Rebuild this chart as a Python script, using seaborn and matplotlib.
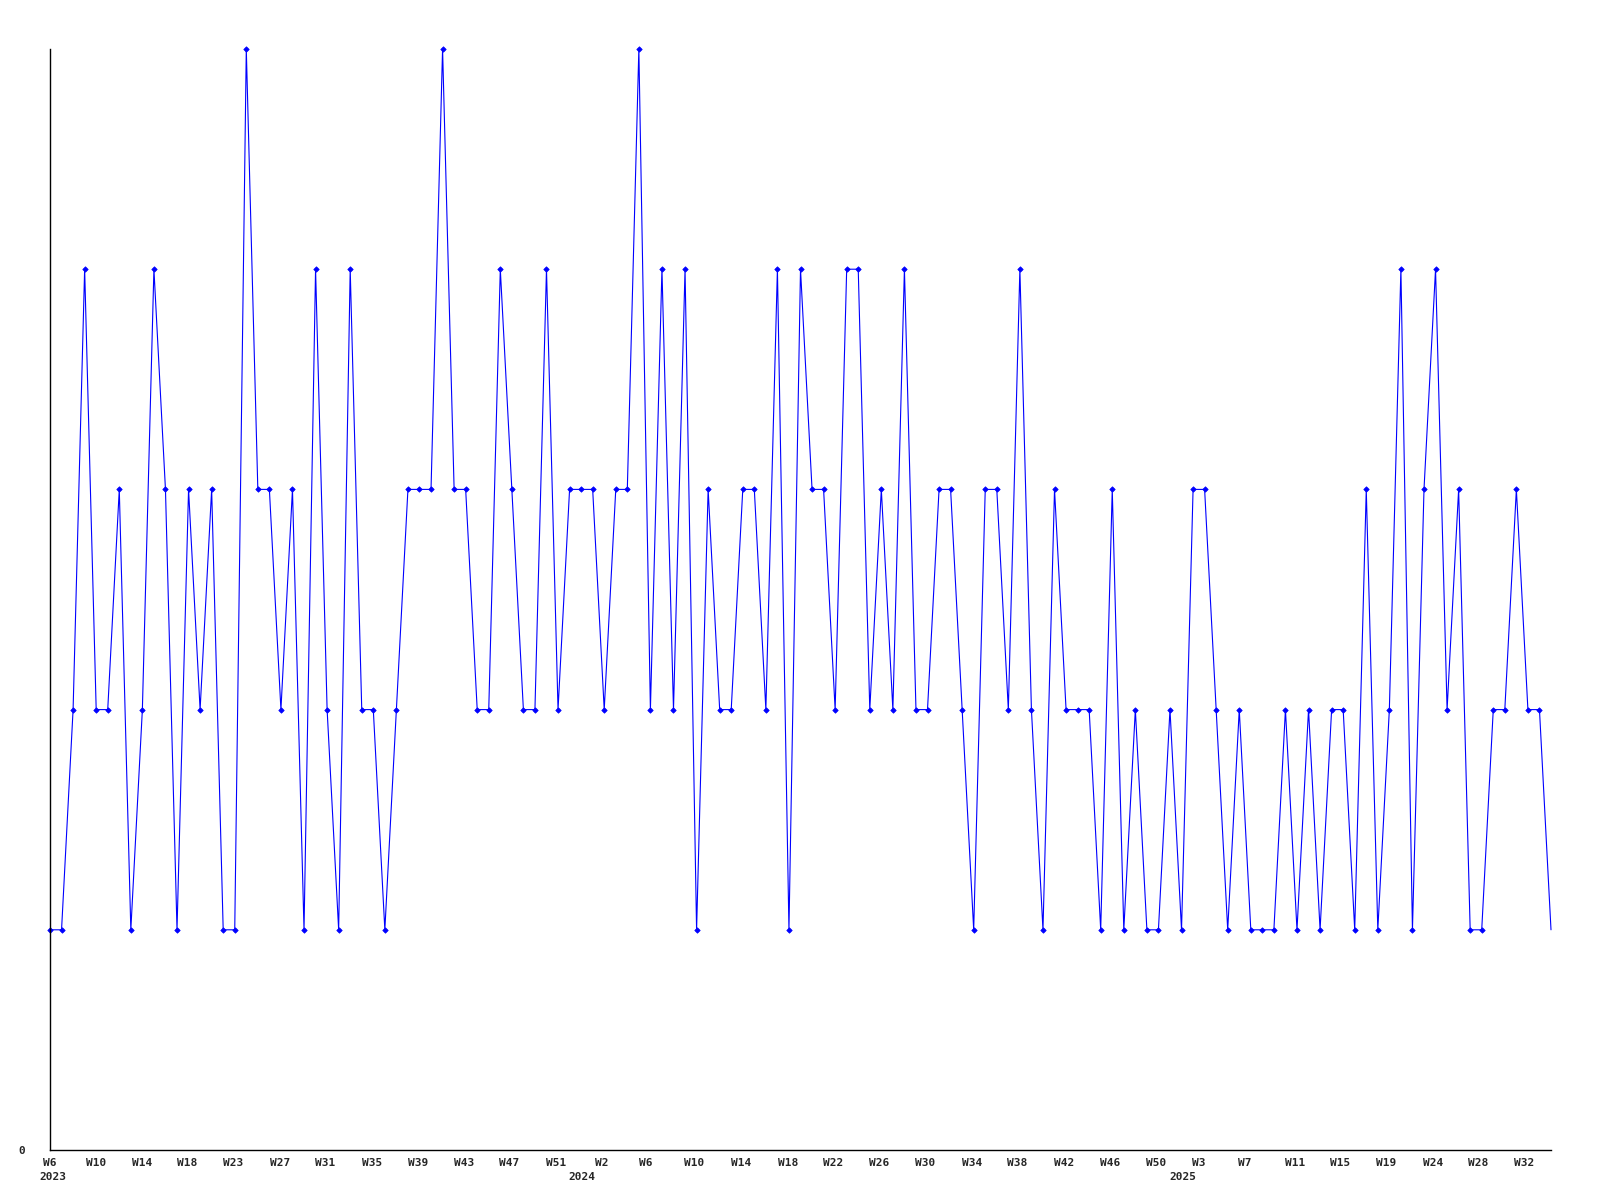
import matplotlib
matplotlib.use("Agg")
import matplotlib.pyplot as plt
import matplotlib.transforms as mtransforms
import seaborn as sns
import pandas as pd

# weekly values, 2023 W6 .. 2025 W32
values = [1, 1, 2, 4, 2, 2, 3, 1, 2, 4, 3, 1, 3, 2, 3, 1, 1, 5,
          3, 3, 2, 3, 1, 4, 2, 1, 4, 2, 2, 1, 2, 3, 3, 3, 5, 3,
          3, 2, 2, 4, 3, 2, 2, 4, 2, 3, 3, 3, 2, 3, 3, 5, 2, 4,
          2, 4, 1, 3, 2, 2, 3, 3, 2, 4, 1, 4, 3, 3, 2, 4, 4, 2,
          3, 2, 4, 2, 2, 3, 3, 2, 1, 3, 3, 2, 4, 2, 1, 3, 2,
          2, 2, 1, 3, 1, 2, 1, 1, 2, 1, 3, 3, 2, 1, 2, 1, 1, 1,
          2, 1, 2, 1, 2, 2, 1, 3, 1, 2, 4, 1, 3, 4, 2, 3, 1, 1, 2, 2, 3, 2, 2, 1]
week_index = list(range(len(values)))

tick_labels = ["W6", "W10", "W14", "W18", "W23", "W27", "W31", "W35", "W39", "W43",
               "W47", "W51", "W2", "W6", "W10", "W14", "W18", "W22", "W26", "W30",
               "W34", "W38", "W42", "W46", "W50", "W3", "W7", "W11", "W15", "W19",
               "W24", "W28", "W32"]
tick_positions = [0.0, 3.98, 7.95, 11.9, 15.9, 19.9, 23.85, 27.9, 31.9, 35.9,
                  39.8, 43.8, 47.8, 51.6, 55.8, 59.9, 63.9, 67.8, 71.8, 75.8,
                  79.9, 83.8, 87.8, 91.8, 95.8, 99.5, 103.5, 107.8, 111.7, 115.7,
                  119.8, 123.7, 127.7]
year_labels = ["2023", "2024", "2025"]
year_positions = [0.27, 46.1, 98.1]

df = pd.DataFrame({"week": week_index, "value": values})

sns.set_theme(style="white")
plt.rcParams["font.family"] = ["DejaVu Sans Mono", "DejaVu Sans"]

fig = plt.figure(figsize=(16, 12), dpi=100)
ax = fig.add_axes([50 / 1600, 1 - 1150 / 1200, 1501 / 1600, 1101 / 1200])

sns.lineplot(data=df, x="week", y="value", ax=ax, color="#0000ff", linewidth=0.8,
             marker="D", markersize=2.8, markeredgewidth=0.5, markeredgecolor="#0000ff",
             markevery=list(range(len(values) - 1)),
             clip_on=False, sort=False)

ax.set_xlabel("")
ax.set_ylabel("")

ax.set_xticks(tick_positions)
ax.set_xticklabels(tick_labels, fontsize=8, fontweight="bold")
ax.set_yticks([0])
ax.set_yticklabels(["0"], fontsize=8, fontweight="bold")
ax.tick_params(axis="x", length=0, pad=6)
ax.tick_params(axis="y", length=0, pad=18)

ax.set_xlim(0, len(values) - 1)
ax.set_ylim(0, 5)

for side in ["top", "right"]:
    ax.spines[side].set_visible(False)
for side in ["left", "bottom"]:
    ax.spines[side].set_color("black")
    ax.spines[side].set_linewidth(1.0)

trans = mtransforms.blended_transform_factory(ax.transData, fig.transFigure)
for lab, pos in zip(year_labels, year_positions):
    ax.text(pos, 1 - 1177 / 1200, lab, transform=trans, ha="center", va="center",
            fontsize=8, fontweight="bold", clip_on=False)

ax.grid(False)
fig.savefig("out.png", dpi=100, facecolor="white")
